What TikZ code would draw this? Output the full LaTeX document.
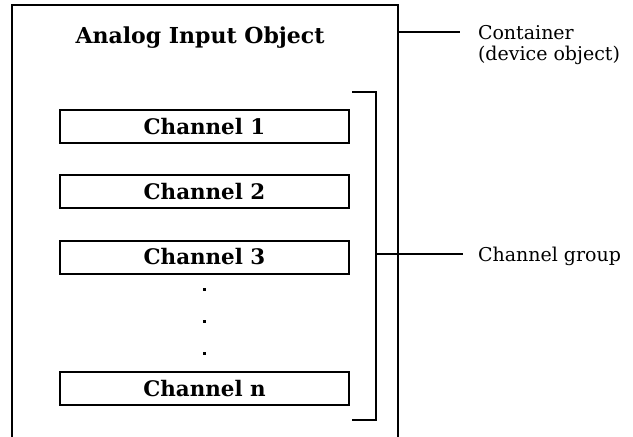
\documentclass[tikz,border=0pt]{standalone}
\usepackage{fontspec}
\setmainfont{DejaVu Serif}
\usetikzlibrary{positioning}

\begin{document}
\begin{tikzpicture}[x=0.5pt,y=-0.5pt,line width=1pt,
	chan node/.style={draw,minimum width=144.5pt,minimum height=16.5pt,inner sep=0pt,font=\fontsize{10.7}{11}\selectfont\bfseries},
	note node/.style={anchor=base west,align=left,inner sep=0pt,font=\fontsize{9.5}{10.5}\selectfont}
]
	\useasboundingbox (0,0) rectangle (633,436);

	\def \cx {204.5};
	\def \dy {65.25};

	% container, open at the bottom
	\node (box) [minimum width=192pt,minimum height=215pt,inner sep=0pt] at (205,221) {};
	\draw (box.south west) |- (box.north east) -- (box.south east);
	\node (title) [anchor=base,inner sep=0pt,font=\fontsize{11}{11}\selectfont\bfseries] at (200,43) {Analog Input Object};

	\foreach \s in {1,2,3} {
		\node[chan node] (ch\s) at (\cx,{126.5+\dy*(\s-1)}) {Channel \s};
	}
	\node[chan node] (chn) at (\cx,388.5) {Channel n};

	\foreach \y in {289,321,353}
		\fill (\cx-1.5,\y-1.5) rectangle (\cx+1.5,\y+1.5);

	% channel group bracket
	\coordinate (gtop) at (352,92);
	\coordinate (gmid) at (376,254);
	\coordinate (gbot) at (352,420);
	\draw (gtop) -| (gmid) |- (gbot);

	% leaders and notes
	\coordinate (lead1) at (460,32);
	\coordinate (lead2) at (463,254);
	\draw (box.east |- lead1) -- (lead1);
	\draw (gmid) -- (lead2);
	\node[note node] (cont) at (477,60) {Container\\(device object)};
	\node[note node] (group) at (477,261) {Channel group};
\end{tikzpicture}
\end{document}
